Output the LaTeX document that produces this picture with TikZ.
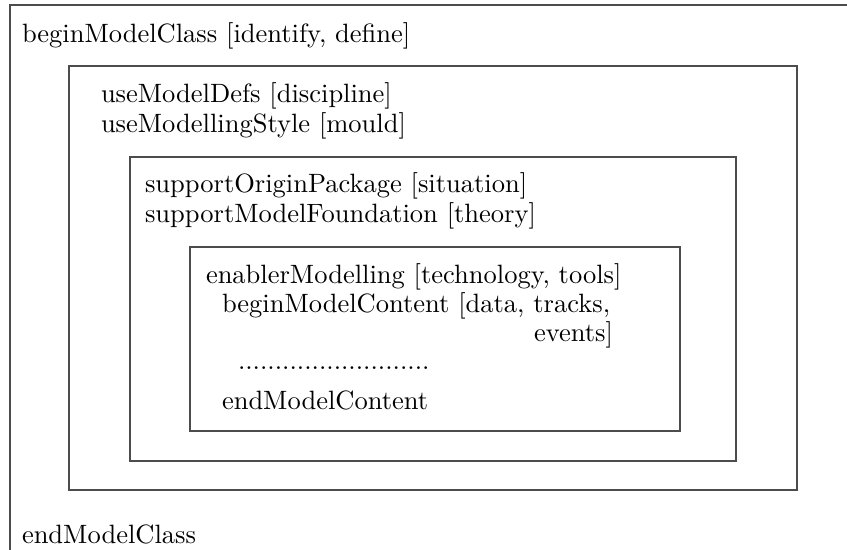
\documentclass[tikz,border=0pt]{standalone}
\begin{document}
\begin{tikzpicture}[x=0.3774pt,y=-0.3774pt,
  frame/.style={draw=black!70,line width=0.5pt},
  txt/.style={anchor=base west,inner sep=0pt,outer sep=0pt},
  txtr/.style={anchor=base east,inner sep=0pt,outer sep=0pt}]
\useasboundingbox (0,0) rectangle (847,550);
\clip (0,0) rectangle (847,550);
% nested frames
\draw[frame] (10,5) rectangle (880,580);
\draw[frame] (69,66) rectangle (797,490);
\draw[frame] (130,157) rectangle (736,461);
\draw[frame] (190,247) rectangle (680,431);
% outermost level
\node[txt] (bmc) at (22,43) {beginModelClass [identify, define]};
\node[txt] (emc) at (22,543) {endModelClass};
% second level
\node[txt] (umd) at (101,103) {useModelDefs [discipline]};
\node[txt] (ums) at (101,133) {useModellingStyle [mould]};
% third level
\node[txt] (sop) at (145,193) {supportOriginPackage [situation]};
\node[txt] (smf) at (145,223) {supportModelFoundation [theory]};
% innermost level
\node[txt] (enm) at (206,284) {enablerModelling [technology, tools]};
\node[txt] (bco) at (222,313) {beginModelContent [data, tracks,};
\node[txtr] (ev) at (613,342) {events]};
\node[txt] (dots) at (238,370) {..........................};
\node[txt] (eco) at (222,410) {endModelContent};
\end{tikzpicture}
\end{document}
